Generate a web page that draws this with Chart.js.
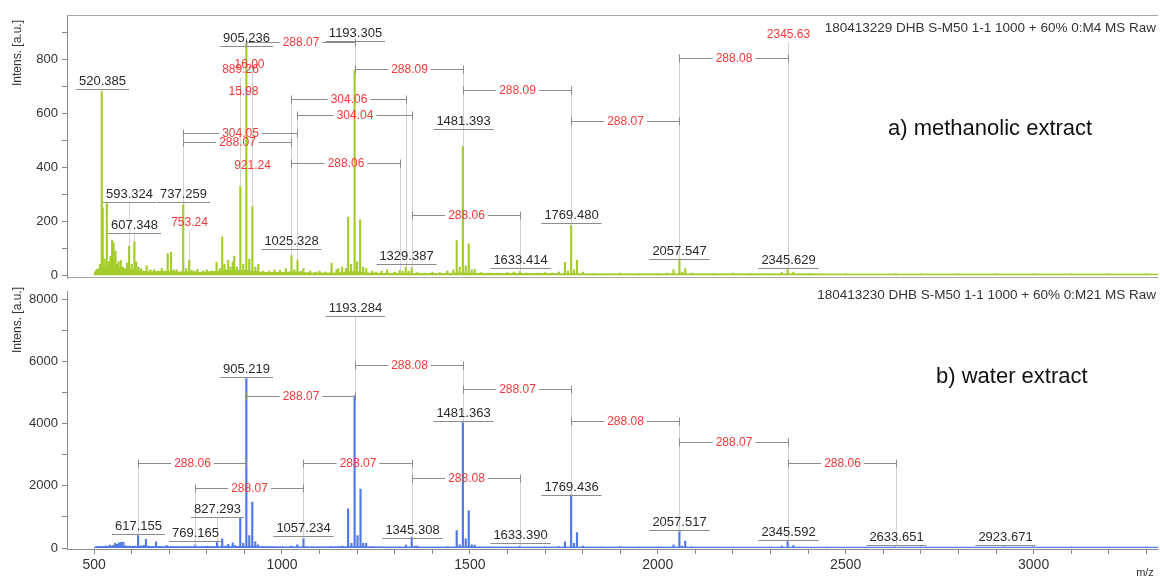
<!DOCTYPE html>
<html>
<head>
<meta charset="utf-8">
<script src="https://cdn.jsdelivr.net/npm/chart.js@4.4.1/dist/chart.umd.min.js"></script>
<style>
html, body { margin: 0; padding: 0; background: #fff; }
#wrap { position: relative; width: 1160px; height: 578px; overflow: hidden; }
#cA { position: absolute; left: 0; top: 0; }
#cB { position: absolute; left: 0; top: 280px; }
</style>
</head>
<body>
<div id="wrap">
  <canvas id="cA" width="1160" height="290"></canvas>
  <canvas id="cB" width="1160" height="298"></canvas>
</div>
<script>
const FONT = "'Liberation Sans', Arial, sans-serif";

// axis ticks
const xTicks = [500,600,700,800,900,1000,1100,1200,1300,1400,1500,1600,1700,1800,1900,2000,
                2100,2200,2300,2400,2500,2600,2700,2800,2900,3000,3100,3200,3300];
const yTicksA = [0,100,200,300,400,500,600,700,800,900];
const yTicksB = [0,1000,2000,3000,4000,5000,6000,7000,8000];

// a) methanolic extract : [m/z, intensity]
const peaksA = [
  [503,10],[510,20],[516,40],[520.39,680],[523,250],[528,60],[534,265],[540,50],[544,70],[548,130],
  [552,120],[557,90],[561,40],[565,50],[571,55],[576,30],[580,25],[588,45],[593.32,108],[600,40],
  [607.35,125],[612,50],[618,30],[625,25],[632,15],[640,35],[650,20],[660,20],[670,15],[680,25],
  [696,80],[705,85],[712,20],[720,20],[737.26,262],[745,25],[753.24,55],[760,18],[768,15],[775,22],
  [790,15],[800,20],[812,15],[826,48],[835,25],[841,142],[847,40],[852,20],[857,55],[863,30],
  [869,50],[873,70],[880,30],[889.26,330],[897,40],[905.24,860],[913,60],[921.24,255],[929,30],[937,40],
  [950,15],[965,15],[980,20],[995,18],[1010,25],[1025.33,75],[1033,20],[1041.3,55],[1050,15],[1057,25],
  [1075,15],[1090,12],[1100,15],[1115,12],[1132,45],[1145,20],[1150,25],[1160,30],[1170,25],[1176,215],
  [1184,40],[1193.31,760],[1200,50],[1208,205],[1216,30],[1224,25],[1240,15],[1250,12],[1265,15],[1280,20],
  [1300,12],[1313.39,18],[1321,15],[1329.39,30],[1337,15],[1345.34,28],[1360,10],[1380,8],[1400,12],[1420,10],
  [1440,15],[1456,20],[1465,128],[1473,30],[1481.39,478],[1489,35],[1497,116],[1505,20],[1513,22],[1530,10],
  [1550,8],[1575,8],[1600,10],[1617,12],[1633.41,14],[1650,8],[1680,8],[1700,10],[1720,8],[1737,12],
  [1753,48],[1761,15],[1769.48,185],[1777,20],[1785,55],[1801,12],[1830,6],[1860,6],[1900,8],[1950,6],
  [2000,6],[2025,8],[2042,20],[2057.55,62],[2065,12],[2073,25],[2090,8],[2150,6],[2200,8],[2250,6],
  [2300,6],[2330,10],[2345.63,24],[2361,12],[2400,6],[2500,5],[2633,6],[2700,5],[2800,5],[2900,5],
  [3000,5],[3100,5],[3200,5],[3300,5]
];
const baseA = [
  [500,0],[505,20],[525,30],[550,32],[575,25],[600,20],[625,15],[650,12],[675,14],[700,15],[725,12],
  [750,12],[775,10],[800,12],[825,14],[850,15],[875,16],[900,18],[925,14],[950,10],[975,10],[1000,10],
  [1025,12],[1050,10],[1075,8],[1100,8],[1125,8],[1150,8],[1175,12],[1200,12],[1225,8],[1250,7],
  [1275,7],[1300,7],[1325,7],[1350,6],[1375,6],[1400,6],[1425,6],[1450,7],[1475,8],[1500,7],
  [1600,6],[1700,6],[1800,5],[1900,5],[2000,5],[2100,5],[2200,5],[2300,5],[2400,5],[2500,4],
  [2600,4],[2700,4],[2800,4],[2900,4],[3000,4],[3100,4],[3200,4],[3331,4]
];

// b) water extract : [m/z, intensity]
const peaksB = [
  [503,20],[511,30],[520,40],[530,60],[542,94],[550,80],[556,150],[561,120],[566,170],[572,180],
  [578,190],[584,70],[593,60],[600,50],[608,60],[617.16,420],[625,70],[632,90],[638,280],[645,60],
  [655,50],[665,200],[675,40],[693,80],[705,40],[720,50],[740,40],[755,40],[769.17,100],[785,40],
  [800,60],[812,40],[827.29,200],[841,300],[850,60],[857,120],[869,170],[875,80],[889,960],[897,150],
  [905.22,5480],[913,400],[921,1480],[929,200],[936,100],[950,40],[965,40],[980,40],[1000,40],[1025,60],
  [1041,100],[1057.23,310],[1065,50],[1080,40],[1100,30],[1130,50],[1150,40],[1160,60],[1176,1260],[1185,150],
  [1193.28,4900],[1201,400],[1209,1900],[1216,150],[1224,150],[1240,40],[1260,30],[1300,30],[1313,40],[1330,94],
  [1345.31,350],[1353,60],[1360,60],[1400,30],[1440,40],[1465,560],[1473,100],[1481.36,4050],[1489,300],[1497,1200],
  [1505,100],[1513,94],[1550,30],[1600,30],[1633.39,60],[1700,30],[1737,50],[1753,200],[1769.44,1720],[1777,150],
  [1785,500],[1801,60],[1850,30],[1900,40],[1950,30],[2000,30],[2042,100],[2057.52,560],[2065,60],[2073,220],
  [2090,40],[2200,30],[2300,30],[2330,60],[2345.59,220],[2361,80],[2377,30],[2450,30],[2633.65,40],[2700,30],
  [2923.67,35],[3000,30],[3100,30],[3200,30],[3300,30]
];
const baseB = [
  [500,0],[505,40],[550,50],[600,50],[650,45],[700,40],[750,40],[800,40],[850,45],[900,50],[950,40],
  [1000,35],[1100,35],[1200,40],[1300,30],[1400,30],[1500,35],[1600,30],[1800,30],[2000,30],
  [2200,25],[2400,25],[2600,25],[2800,25],[3000,25],[3200,25],[3331,25]
];

// peak labels: [m/z, text, label level]
const labelsA = [
  [520.385,'520.385',720],[593.324,'593.324',302],[737.259,'737.259',302],[607.348,'607.348',185],
  [905.236,'905.236',880],[1193.305,'1193.305',898],[1025.328,'1025.328',127],[1329.387,'1329.387',73],
  [1481.393,'1481.393',571],[1633.414,'1633.414',55],[1769.480,'1769.480',222],[2057.547,'2057.547',91],
  [2345.629,'2345.629',55]
];
const redLabelsA = [[889.26,'889.26',764],[921.24,'921.24',409],[753.24,'753.24',196],[2345.63,'2345.63',895]];
// mass differences: [from, to, text, level]
const bracketsA = [
  [905.24,1193.31,'288.07',862],[1193.31,1481.39,'288.09',764],[1481.39,1769.48,'288.09',687],
  [1769.48,2057.55,'288.07',571],[2057.55,2345.63,'288.08',804],[1025.33,1329.39,'304.06',651],
  [1041.30,1345.34,'304.04',593],[737.26,1041.30,'304.05',528],[737.26,1025.33,'288.07',495],
  [1025.33,1313.39,'288.06',415],[1345.34,1633.41,'288.06',222],[905.24,921.24,'16.00',782],
  [889.26,905.24,'15.98',684]
];

const labelsB = [
  [1193.284,'1193.284',7728],[905.219,'905.219',5750],[827.293,'827.293',1260],[617.155,'617.155',720],
  [769.165,'769.165',500],[1057.234,'1057.234',635],[1345.308,'1345.308',594],[1481.363,'1481.363',4344],
  [1633.390,'1633.390',406],[1769.436,'1769.436',1978],[2057.517,'2057.517',853],[2345.592,'2345.592',510],
  [2633.651,'2633.651',344],[2923.671,'2923.671',344]
];
const bracketsB = [
  [617.16,905.22,'288.06',2750],[769.17,1057.23,'288.07',1947],[905.22,1193.28,'288.07',4906],
  [1057.23,1345.31,'288.07',2750],[1193.28,1481.36,'288.08',5906],[1481.36,1769.44,'288.07',5125],
  [1769.44,2057.52,'288.08',4103],[2057.52,2345.59,'288.07',3428],[1345.31,1633.39,'288.08',2250],
  [2345.59,2633.65,'288.06',2750]
];

function peakHeight(peaks, m) {
  let best = 0, bd = 4;
  peaks.forEach(p => {
    const d = Math.abs(p[0] - m);
    if (d < bd) { bd = d; best = p[1]; }
  });
  return best;
}

function annotator(spec) {
  return {
    id: 'annot',
    afterDatasetsDraw(chart) {
      const ctx = chart.ctx, a = chart.chartArea;
      const xs = chart.scales.x, ys = chart.scales.y;
      const px = m => Math.round(xs.getPixelForValue(m)) + 0.5;
      const py = v => Math.round(ys.getPixelForValue(v)) + 0.5;
      ctx.save();
      ctx.lineWidth = 1;

      // frame
      if (spec.frame) {
        ctx.strokeStyle = '#a6a6a6';
        ctx.beginPath();
        ctx.moveTo(a.left, Math.round(a.top) + 0.5); ctx.lineTo(a.right, Math.round(a.top) + 0.5);
        ctx.moveTo(a.left, Math.round(a.bottom) - 0.5); ctx.lineTo(a.right, Math.round(a.bottom) - 0.5);
        ctx.stroke();
      }

      // drop lines to the peaks
      ctx.strokeStyle = '#d2d2d2';
      ctx.beginPath();
      spec.brackets.forEach(b => {
        [b[0], b[1]].forEach(m => {
          const top = py(b[3]), bot = py(peakHeight(spec.peaks, m));
          if (bot > top) { ctx.moveTo(px(m), top); ctx.lineTo(px(m), bot); }
        });
      });
      spec.labels.concat(spec.red).forEach(l => {
        const top = py(l[2]) + 8, bot = py(peakHeight(spec.peaks, l[0]));
        if (bot > top) { ctx.moveTo(px(l[0]), top); ctx.lineTo(px(l[0]), bot); }
      });
      ctx.stroke();

      ctx.textAlign = 'center';
      ctx.textBaseline = 'middle';

      // mass difference brackets
      ctx.font = '12px ' + FONT;
      spec.brackets.forEach(b => {
        const x1 = px(b[0]), x2 = px(b[1]), yy = py(b[3]);
        const mid = (x1 + x2) / 2, w = ctx.measureText(b[2]).width;
        ctx.strokeStyle = '#8c8c8c';
        ctx.beginPath();
        if (mid - w / 2 - 3 > x1) {
          ctx.moveTo(x1, yy); ctx.lineTo(mid - w / 2 - 3, yy);
          ctx.moveTo(mid + w / 2 + 3, yy); ctx.lineTo(x2, yy);
        }
        ctx.moveTo(x1, yy - 4); ctx.lineTo(x1, yy + 4);
        ctx.moveTo(x2, yy - 4); ctx.lineTo(x2, yy + 4);
        ctx.stroke();
        ctx.fillStyle = '#f23a3a';
        ctx.fillText(b[2], mid, yy);
      });

      // red peak labels
      spec.red.forEach(l => {
        ctx.fillStyle = '#f23a3a';
        ctx.fillText(l[1], px(l[0]), py(l[2]));
      });

      // black peak labels with underline
      ctx.font = '13px ' + FONT;
      spec.labels.forEach(l => {
        const xx = px(l[0]), yy = py(l[2]);
        const w = ctx.measureText(l[1]).width;
        ctx.fillStyle = '#2a2a2a';
        ctx.fillText(l[1], xx, yy);
        ctx.strokeStyle = '#8c8c8c';
        ctx.beginPath();
        ctx.moveTo(xx - w / 2 - 3, yy + 8); ctx.lineTo(xx + w / 2 + 3, yy + 8);
        ctx.stroke();
      });

      // header, sample name, axis title
      ctx.fillStyle = '#333';
      ctx.font = '13.5px ' + FONT;
      ctx.textAlign = 'right';
      ctx.fillText(spec.header, a.right - 2, spec.headerY);
      ctx.textAlign = 'left';
      ctx.font = '22px ' + FONT;
      ctx.fillStyle = '#111';
      ctx.fillText(spec.name, spec.nameX, spec.nameY);
      ctx.save();
      ctx.translate(18, spec.titleY);
      ctx.rotate(-Math.PI / 2);
      ctx.textAlign = 'center';
      ctx.font = '12px ' + FONT;
      ctx.fillStyle = '#333';
      ctx.fillText('Intens. [a.u.]', 0, 0);
      ctx.restore();
      if (spec.mz) {
        ctx.font = '11px ' + FONT;
        ctx.fillStyle = '#333';
        ctx.textAlign = 'center';
        ctx.fillText('m/z', 1145, spec.mz);
      }
      ctx.restore();
    }
  };
}

function yAxis(min, max, ticks, every) {
  return {
    min: min, max: max,
    afterBuildTicks: s => { s.ticks = ticks.map(v => ({ value: v })); },
    afterFit: s => { s.width = 67; },
    ticks: {
      autoSkip: false, padding: 4, color: '#333', font: { size: 13, family: FONT },
      callback: v => (v % every === 0 ? String(v) : '')
    },
    grid: { drawOnChartArea: false, drawTicks: true, tickLength: 5, tickColor: '#888' },
    border: { color: '#8c8c8c' }
  };
}

function spectrum(canvas, peaks, base, color, xOpts, yOpts, padding, spec) {
  return new Chart(canvas, {
    type: 'bar',
    data: {
      datasets: [
        { type: 'bar', data: peaks.map(p => ({ x: p[0], y: p[1] })), backgroundColor: color,
          barThickness: 1.5, order: 1 },
        { type: 'line', data: base.map(p => ({ x: p[0], y: p[1] })), borderColor: color,
          backgroundColor: color, borderWidth: 1, pointRadius: 0, fill: 'origin', order: 2 }
      ]
    },
    options: {
      responsive: false,
      animation: false,
      layout: { padding: padding },
      plugins: { legend: { display: false }, tooltip: { enabled: false } },
      scales: { x: xOpts, y: yOpts }
    },
    plugins: [annotator(spec)]
  });
}

spectrum(document.getElementById('cA'), peaksA, baseA, '#a3cc2c',
  { type: 'linear', min: 428, max: 3331, offset: false, display: false },
  yAxis(-11, 963.6, yTicksA, 200),
  { top: 15, bottom: 7, left: 0, right: 2 },
  { peaks: peaksA, labels: labelsA, red: redLabelsA, brackets: bracketsA, frame: true,
    header: '180413229 DHB S-M50 1-1 1000 + 60% 0:M4 MS Raw', headerY: 28,
    name: 'a) methanolic extract', nameX: 888, nameY: 129, titleY: 53 });

spectrum(document.getElementById('cB'), peaksB, baseB, '#5079e6',
  { type: 'linear', min: 428, max: 3331, offset: false,
    afterBuildTicks: s => { s.ticks = xTicks.map(v => ({ value: v })); },
    afterFit: s => { s.height = 29; },
    ticks: { autoSkip: false, maxRotation: 0, padding: 3, color: '#333', font: { size: 14, family: FONT },
             callback: v => (v % 500 === 0 ? String(v) : '') },
    grid: { drawOnChartArea: false, drawTicks: true, tickLength: 5, tickColor: '#888', offset: false },
    border: { color: '#8c8c8c' } },
  yAxis(-31, 8250, yTicksB, 2000),
  { top: 4, bottom: 0, left: 0, right: 2 },
  { peaks: peaksB, labels: labelsB, red: [], brackets: bracketsB, frame: false,
    header: '180413230 DHB S-M50 1-1 1000 + 60% 0:M21 MS Raw', headerY: 15,
    name: 'b) water extract', nameX: 936, nameY: 97, titleY: 40, mz: 293 });
</script>
</body>
</html>
